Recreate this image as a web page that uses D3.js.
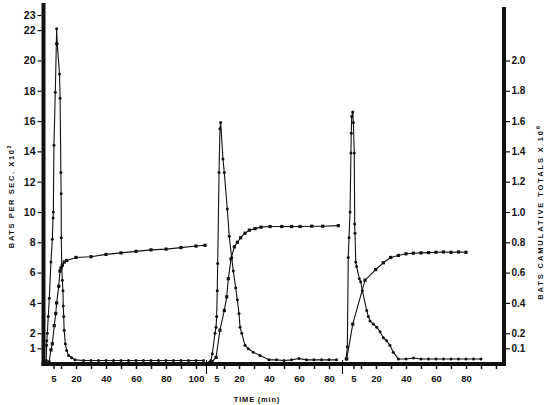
<!DOCTYPE html>
<html><head><meta charset="utf-8">
<script src="https://cdn.jsdelivr.net/npm/d3@7"></script>
<style>body{margin:0;background:#fff}svg{display:block}</style>
</head><body>
<svg id="c" width="550" height="405"></svg>
<script>
// ---- data (minutes, bats/sec x10^2) ----
const rate1Min = [0.2,0.4,0.5,0.9,1.5,2.2,3.3,4.2,4.7,4.9,5.3,6.2,6.9,7.1,7.5,9.0,9.4,9.9,10.1,10.2,10.5,10.9,11.3,11.5,11.8,12.1,12.9,13.8,15.1,17.1,19.3,25,30,35,40,45,50,55,60,65,70,75,80,85,90,95,100,105];
const rate1Val = [0.2,1.2,1.5,2.0,3.1,4.3,6.7,8.2,9.6,10.0,14.4,17.9,21.1,22.1,21.1,19.1,17.5,12.6,11.2,8.3,6.4,5.5,4.8,3.8,3.1,2.2,1.3,0.86,0.53,0.38,0.24,0.2,0.2,0.2,0.2,0.2,0.2,0.2,0.2,0.2,0.2,0.2,0.2,0.2,0.2,0.2,0.2,0.2];
// cumulative totals x10^6
const cum1Min = [2,3.3,4.2,5.5,6.5,7.1,8.5,9.3,10,10.9,12.2,13.8,20,30,40,50,60,70,80,90,100,106];
const cum1Val = [0.01,0.09,0.13,0.25,0.33,0.40,0.51,0.61,0.63,0.65,0.67,0.68,0.70,0.705,0.72,0.73,0.74,0.75,0.755,0.765,0.775,0.78];

const rate2Min = [0,1.3,2.2,4,4.7,5.1,5.5,5.8,6.7,7.3,7.8,9.3,10.2,12.2,13.5,15.1,16.2,17.8,18.9,20,20.7,21.8,24,26.2,29.5,34,40,45,50,55,60,65,70,75,80,85];
const rate2Val = [0.07,0.2,0.64,2.0,2.4,3.1,4.8,6.6,12.6,15.5,15.9,13.5,12.6,10.2,8.4,7.0,6.1,5.0,4.2,3.3,2.4,2.0,1.2,0.97,0.75,0.53,0.24,0.24,0.2,0.24,0.33,0.24,0.24,0.24,0.24,0.24];
const cum2Min = [2,4.7,7.3,10.2,11.8,12.9,14.7,16.9,18.9,21.1,24,26.9,30.7,34.7,40.7,48.5,55.1,60.7,68.5,75.8,86.2];
const cum2Val = [0.01,0.04,0.22,0.35,0.44,0.56,0.69,0.77,0.80,0.83,0.86,0.88,0.89,0.90,0.904,0.904,0.904,0.904,0.906,0.906,0.91];

const rate3Min = [0,0.9,1.5,2,2.7,3.3,3.5,3.8,4.5,4.9,5.5,5.8,6,6.5,7.1,8.9,9.8,10.9,13.8,14.9,16,18.2,20.5,22.7,24.9,27.1,29.3,31.5,34.9,40,45,50,55,60,65,70,75,80,85,90];
const rate3Val = [0.3,1.1,7.0,8.3,10.0,13.9,15.2,16.3,16.6,15.9,13.9,9.2,8.6,6.7,6.4,5.6,5.4,4.8,3.5,3.1,2.8,2.6,2.4,2.1,1.7,1.5,1.2,0.75,0.3,0.3,0.36,0.3,0.3,0.3,0.3,0.3,0.3,0.3,0.3,0.3];
const cum3Min = [0.5,4.5,12.7,19.8,24.9,29.8,34.9,40,44.9,50,55,60,65,70,75,80];
const cum3Val = [0.03,0.26,0.55,0.62,0.665,0.70,0.713,0.724,0.728,0.73,0.732,0.734,0.736,0.734,0.736,0.734];

const leftTicks = [1,2,4,6,8,10,12,14,16,18,20,22,23];
const rightTicks = [0.1,0.2,0.4,0.6,0.8,1.0,1.2,1.4,1.6,1.8,2.0];
const xTicks1 = [5,10,20,30,40,50,60,70,80,90,100];
const xLabels1 = [5,20,40,60,80,100];
const xTicks2 = [5,10,20,30,40,50,60,70,80];
const xLabels2 = [5,20,40,60,80];
const xTicks3 = [5,10,20,30,40,50,60,70,80,90,100];
const xLabels3 = [5,20,40,60,80];
const panelEnds = [107, 89, 106];

// ---- layout ----
const svg = d3.select("#c");
const ink = "#111";
const yL = d3.scaleLinear().domain([0, 23]).range([363.5, 15]);
const yR = d3.scaleLinear().domain([0, 2.3]).range([363.5, 15]);
const origins = [46, 209, 346];
const xs = origins.map((o, i) => d3.scaleLinear().domain([0, panelEnds[i]]).range([o, o + 1.5 * panelEnds[i]]));

const font = "'Liberation Sans', Arial, sans-serif";

// frame
const frame = svg.append("g").attr("stroke", ink).attr("stroke-width", 4).attr("fill", "none");
frame.append("line").attr("x1", 43.5).attr("x2", 43.5).attr("y1", 3).attr("y2", 366);
frame.append("line").attr("x1", 504).attr("x2", 504).attr("y1", 7).attr("y2", 366);
frame.append("line").attr("x1", 41.5).attr("x2", 506).attr("y1", 364).attr("y2", 364);

// left axis
const gl = svg.append("g").attr("transform", "translate(41.5,0)")
  .call(d3.axisLeft(yL).tickValues(leftTicks).tickSize(4).tickPadding(2).tickFormat(d3.format("d")));
gl.select(".domain").remove();
gl.selectAll("line").attr("stroke", ink).attr("stroke-width", 1.2);
gl.selectAll("text").attr("font-family", font).attr("font-weight", "bold").attr("font-size", 10.5).attr("fill", ink);

// right axis
const gr = svg.append("g").attr("transform", "translate(506,0)")
  .call(d3.axisRight(yR).tickValues(rightTicks).tickSize(4).tickPadding(1.5).tickFormat(d3.format(".1f")));
gr.select(".domain").remove();
gr.selectAll("line").attr("stroke", ink).attr("stroke-width", 1.2);
gr.selectAll("text").attr("font-family", font).attr("font-weight", "bold").attr("font-size", 10).attr("fill", ink);

// bottom axes
const tickSets = [[xTicks1, xLabels1], [xTicks2, xLabels2], [xTicks3, xLabels3]];
xs.forEach((x, i) => {
  const g = svg.append("g").attr("transform", "translate(0,366)")
    .call(d3.axisBottom(x).tickValues(tickSets[i][0]).tickSize(3).tickPadding(6)
      .tickFormat(d => tickSets[i][1].includes(d) ? d : ""));
  g.select(".domain").remove();
  g.selectAll("line").attr("stroke", ink).attr("stroke-width", 1.5);
  g.selectAll("text").attr("font-family", font).attr("font-weight", "bold").attr("font-size", 9.5).attr("fill", ink);
});
// panel separators
[1, 2].forEach(i => {
  const sx = xs[i - 1](panelEnds[i - 1]);
  svg.append("line").attr("x1", sx).attr("x2", sx).attr("y1", 360).attr("y2", 374)
    .attr("stroke", ink).attr("stroke-width", 1.1);
});

// series
const series = [
  {m: rate1Min, v: rate1Val, x: xs[0], y: yL, kind: "rate"},
  {m: cum1Min, v: cum1Val, x: xs[0], y: yR, kind: "cum"},
  {m: rate2Min, v: rate2Val, x: xs[1], y: yL, kind: "rate"},
  {m: cum2Min, v: cum2Val, x: xs[1], y: yR, kind: "cum"},
  {m: rate3Min, v: rate3Val, x: xs[2], y: yL, kind: "rate"},
  {m: cum3Min, v: cum3Val, x: xs[2], y: yR, kind: "cum"},
];
series.forEach(s => {
  const pts = s.m.map((t, k) => [s.x(t), s.y(s.v[k])]);
  svg.append("path").attr("d", d3.line()(pts)).attr("fill", "none")
    .attr("stroke", ink).attr("stroke-width", 1.1).attr("stroke-linejoin", "round");
  if (s.kind === "rate") {
    svg.append("g").selectAll("circle").data(pts).join("circle")
      .attr("cx", d => d[0]).attr("cy", d => d[1]).attr("r", 1.5).attr("fill", ink);
  } else {
    svg.append("g").selectAll("rect").data(pts).join("rect")
      .attr("x", d => d[0] - 1.6).attr("y", d => d[1] - 1.6).attr("width", 3.2).attr("height", 3.2).attr("fill", ink);
  }
});

// titles
const lt = svg.append("text").attr("transform", "translate(14,196) rotate(-90)")
  .attr("text-anchor", "middle").attr("font-family", font).attr("font-weight", "bold")
  .attr("font-size", 7.5).attr("letter-spacing", 1.6).attr("fill", ink);
lt.append("tspan").text("BATS PER SEC. X10");
lt.append("tspan").attr("dy", -3).attr("font-size", 5.5).text("2");

const rt = svg.append("text").attr("transform", "translate(543,212) rotate(-90)")
  .attr("text-anchor", "middle").attr("font-family", font).attr("font-weight", "bold")
  .attr("font-size", 7.5).attr("letter-spacing", 1.9).attr("fill", ink);
rt.append("tspan").text("BATS CAMULATIVE TOTALS X 10");
rt.append("tspan").attr("dy", -3).attr("font-size", 5.5).text("6");

svg.append("text").attr("x", 257).attr("y", 402).attr("text-anchor", "middle")
  .attr("font-family", font).attr("font-weight", "bold").attr("font-size", 7.5)
  .attr("letter-spacing", 0.8).attr("fill", ink).text("TIME (min)");
</script>
</body></html>
